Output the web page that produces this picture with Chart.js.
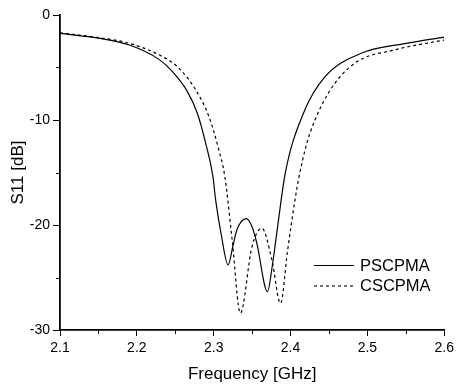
<!DOCTYPE html>
<html>
<head>
<meta charset="utf-8">
<script src="https://cdn.jsdelivr.net/npm/chart.js@4/dist/chart.umd.min.js"></script>
<style>
html,body{margin:0;padding:0;background:#fff;}
#wrap{width:458px;height:388px;position:relative;}
</style>
</head>
<body>
<div id="wrap"><canvas id="c" width="458" height="388"></canvas></div>
<script>
// ---- data ----
const seriesNames = ['PSCPMA', 'CSCPMA'];
const psFreq = [2.10, 2.15, 2.1904, 2.2292, 2.2464, 2.2658, 2.2787, 2.2895, 2.299, 2.3025, 2.31, 2.3187, 2.325, 2.33, 2.3425, 2.35, 2.356, 2.370, 2.376, 2.382, 2.393, 2.4165, 2.4446, 2.4919, 2.55, 2.60];
const psS11  = [-1.75, -2.2, -2.86, -4.25, -5.4, -7.3, -9.36, -12.2, -15.4, -17.6, -21.0, -23.8, -22.0, -20.5, -19.4, -20.2, -21.7, -26.35, -24.0, -20.8, -15.1, -9.4, -5.9, -3.65, -2.7, -2.1];
const csFreq = [2.10, 2.15, 2.1904, 2.2335, 2.255, 2.2766, 2.2938, 2.3067, 2.3145, 2.324, 2.3347, 2.3497, 2.3627, 2.3756, 2.387, 2.396, 2.4058, 2.411, 2.4187, 2.425, 2.449, 2.4833, 2.535, 2.60];
const csS11  = [-1.7, -2.15, -2.7, -3.97, -5.08, -7.14, -9.68, -12.86, -15.4, -21.4, -28.4, -22.1, -20.3, -23.3, -27.46, -22.5, -17.6, -15.4, -12.9, -11.3, -7.46, -4.6, -3.33, -2.38];
const xTickLabels = ['2.1', '2.2', '2.3', '2.4', '2.5', '2.6'];
const yTickLabels = ['0', '-10', '-20', '-30'];

const FONT = "Arial, 'Liberation Sans', sans-serif";
const toXY = (xs, ys) => xs.map((x, i) => ({x: x, y: ys[i]}));
const isMajor = (v, step) => Math.abs(v / step - Math.round(v / step)) < 1e-6;

const minorTicks = {
  id: 'minorTicks',
  afterDraw(chart) {
    const ctx = chart.ctx;
    ctx.save();
    ctx.strokeStyle = '#000';
    ctx.lineWidth = 1;
    const xs = chart.scales.x, ys = chart.scales.y;
    xs.ticks.forEach(t => {
      if (!isMajor(t.value - 2.1, 0.1)) {
        const p = Math.round(xs.getPixelForValue(t.value)) + 0.5;
        ctx.beginPath(); ctx.moveTo(p, xs.top); ctx.lineTo(p, xs.top + 4); ctx.stroke();
      }
    });
    ys.ticks.forEach(t => {
      if (!isMajor(t.value, 10)) {
        const p = Math.round(ys.getPixelForValue(t.value)) + 0.5;
        ctx.beginPath(); ctx.moveTo(ys.right, p); ctx.lineTo(ys.right - 4, p); ctx.stroke();
      }
    });
    ctx.restore();
  }
};

const innerLegend = {
  id: 'innerLegend',
  afterDraw(chart) {
    const ctx = chart.ctx;
    ctx.save();
    ctx.font = '16.5px ' + FONT;
    ctx.fillStyle = '#000';
    ctx.textBaseline = 'middle';
    chart.data.datasets.forEach((ds, i) => {
      const y = 265.5 + i * 20.5;
      ctx.strokeStyle = '#000';
      ctx.lineWidth = 1.1;
      ctx.setLineDash(ds.borderDash || []);
      ctx.beginPath(); ctx.moveTo(314, y); ctx.lineTo(354, y); ctx.stroke();
      ctx.setLineDash([]);
      ctx.fillText(ds.label, 360, y + 0.5);
    });
    ctx.restore();
  }
};

new Chart(document.getElementById('c'), {
  type: 'line',
  data: {
    datasets: [
      {label: seriesNames[0], data: toXY(psFreq, psS11), borderColor: '#000', borderWidth: 1.2,
       pointRadius: 0, cubicInterpolationMode: 'monotone', fill: false},
      {label: seriesNames[1], data: toXY(csFreq, csS11), borderColor: '#000', borderWidth: 1.2,
       borderDash: [3, 3], pointRadius: 0, cubicInterpolationMode: 'monotone', fill: false}
    ]
  },
  options: {
    responsive: false,
    animation: false,
    devicePixelRatio: 1,
    layout: {padding: {left: 0, right: 11, top: 15, bottom: 0}},
    plugins: {legend: {display: false}, tooltip: {enabled: false}},
    scales: {
      x: {
        type: 'linear', min: 2.1, max: 2.6,
        afterFit(s) { s.height = 58; },
        afterBuildTicks(s) {
          const t = [];
          for (let i = 0; i <= 10; i++) t.push({value: 2.1 + i * 0.05});
          s.ticks = t;
        },
        ticks: {
          autoSkip: false, maxRotation: 0, padding: 4,
          color: '#000', font: {family: FONT, size: 14},
          callback(v) {
            if (!isMajor(v - 2.1, 0.1)) return '';
            return xTickLabels[Math.round((v - 2.1) / 0.1)];
          }
        },
        grid: {drawOnChartArea: false, tickLength: 6, tickWidth: 1,
               tickColor: c => (c.tick && isMajor(c.tick.value - 2.1, 0.1)) ? '#000' : 'rgba(0,0,0,0)'},
        border: {display: true, color: '#000', width: 1.8},
        title: {display: true, text: 'Frequency [GHz]', color: '#000',
                font: {family: FONT, size: 17}, padding: {top: 0, bottom: 3}}
      },
      y: {
        type: 'linear', min: -30, max: 0,
        afterFit(s) { s.width = 60; },
        afterBuildTicks(s) {
          const t = [];
          for (let i = 0; i <= 6; i++) t.push({value: -30 + i * 5});
          s.ticks = t;
        },
        ticks: {
          autoSkip: false, padding: 3,
          color: '#000', font: {family: FONT, size: 14},
          callback(v) {
            if (!isMajor(v, 10)) return '';
            return yTickLabels[Math.round(-v / 10)];
          }
        },
        grid: {drawOnChartArea: false, tickLength: 7, tickWidth: 1,
               tickColor: c => (c.tick && isMajor(c.tick.value, 10)) ? '#000' : 'rgba(0,0,0,0)'},
        border: {display: true, color: '#000', width: 1.8},
        title: {display: true, text: 'S11 [dB]', color: '#000',
                font: {family: FONT, size: 17}, padding: {top: 8, bottom: 0}}
      }
    }
  },
  plugins: [minorTicks, innerLegend]
});
</script>
</body>
</html>
